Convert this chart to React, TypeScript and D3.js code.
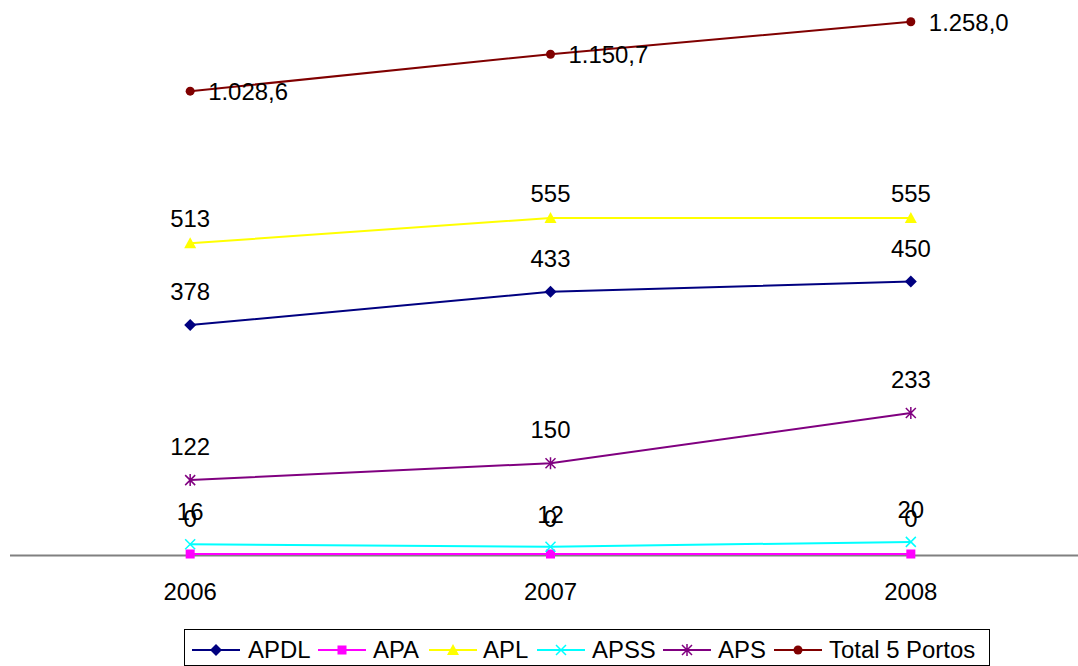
import React from "react";
import * as d3 from "d3";

const years = ["2006", "2007", "2008"];
const apdl = [378, 433, 450];
const apa = [0, 0, 0];
const apl = [513, 555, 555];
const apss = [16, 12, 20];
const aps = [122, 150, 233];
const total = [1028.6, 1150.7, 1258.0];

const seriesNames = ["APDL", "APA", "APL", "APSS", "APS", "Total 5 Portos"];
const seriesColors = ["#000080", "#FF00FF", "#FFFF00", "#00FFFF", "#800080", "#800000"];
const markerTypes = ["diamond", "square", "triangle", "x", "star", "circle"];

const W = 1078;
const H = 666;
const FONT = "'Liberation Sans', Arial, sans-serif";

function T({ x, y, anchor, children }: { x: number; y: number; anchor?: string; children: React.ReactNode }) {
  return (
    <text
      transform={`translate(${x},${y}) scale(1.04,1)`}
      textAnchor={anchor || "start"}
      fontSize={23}
      fill="#000"
    >
      {children}
    </text>
  );
}

function Marker({ type, x, y, color }: { type: string; x: number; y: number; color: string }) {
  if (type === "diamond") {
    const s = 6;
    return <path d={`M${x},${y - s}L${x + s},${y}L${x},${y + s}L${x - s},${y}Z`} fill={color} />;
  }
  if (type === "square") {
    return <rect x={x - 4.5} y={y - 4.5} width={9} height={9} fill={color} />;
  }
  if (type === "triangle") {
    return <path d={`M${x},${y - 6}L${x + 6},${y + 5}L${x - 6},${y + 5}Z`} fill={color} />;
  }
  if (type === "x") {
    const s = 5;
    return (
      <path d={`M${x - s},${y - s}L${x + s},${y + s}M${x - s},${y + s}L${x + s},${y - s}`} stroke={color} strokeWidth={1.5} />
    );
  }
  if (type === "star") {
    const s = 5;
    return (
      <path
        d={`M${x - s},${y - s}L${x + s},${y + s}M${x - s},${y + s}L${x + s},${y - s}M${x},${y - s - 1}L${x},${y + s + 1}`}
        stroke={color}
        strokeWidth={1.5}
      />
    );
  }
  return <circle cx={x} cy={y} r={4.5} fill={color} />;
}

export default function App() {
  const x = d3.scalePoint<string>().domain(years).range([10, 1091]).padding(0.5);
  const yL = d3.scaleLinear().domain([0, 900]).range([554, 9]);
  const yR = d3.scaleLinear().domain([-500, 1300]).range([554, 9]);

  const primary = [apdl, apa, apl, apss, aps];
  const labelOffsets = [-25, -27, -16, -24, -25];
  const fmtTotal = (v: number) => {
    const s = v.toFixed(1);
    const [int, dec] = s.split(".");
    return int.replace(/\B(?=(\d{3})+(?!\d))/g, ".") + "," + dec;
  };

  const lineL = d3
    .line<number>()
    .x((_, i) => x(years[i]) as number)
    .y((d) => yL(d));
  const lineR = d3
    .line<number>()
    .x((_, i) => x(years[i]) as number)
    .y((d) => yR(d));

  const legendItems = [
    { lx: 192, tx: 248 },
    { lx: 318, tx: 373 },
    { lx: 429, tx: 483 },
    { lx: 537, tx: 592 },
    { lx: 663, tx: 718 },
    { lx: 774, tx: 829 },
  ];

  return (
    <svg
      width={W}
      height={H}
      style={{ position: "absolute", left: 0, top: 0, display: "block", background: "#fff" }}
      fontFamily={FONT}
    >
      <rect x={0} y={0} width={W} height={H} fill="#fff" />
      <line x1={10} x2={W} y1={555.5} y2={555.5} stroke="#808080" strokeWidth={2} />
      {years.map((yr) => (
        <T key={yr} x={x(yr) as number} y={600} anchor="middle">
          {yr}
        </T>
      ))}

      {primary.map((vals, si) => (
        <g key={seriesNames[si]}>
          <path d={lineL(vals) || ""} fill="none" stroke={seriesColors[si]} strokeWidth={2} />
          {vals.map((v, i) => (
            <Marker key={i} type={markerTypes[si]} x={x(years[i]) as number} y={yL(v)} color={seriesColors[si]} />
          ))}
        </g>
      ))}
      <g>
        <path d={lineR(total) || ""} fill="none" stroke={seriesColors[5]} strokeWidth={2} />
        {total.map((v, i) => (
          <Marker key={i} type="circle" x={x(years[i]) as number} y={yR(v)} color={seriesColors[5]} />
        ))}
      </g>

      {primary.map((vals, si) =>
        vals.map((v, i) => (
          <T key={`${si}-${i}`} x={x(years[i]) as number} y={yL(v) + labelOffsets[si]} anchor="middle">
            {String(v)}
          </T>
        ))
      )}
      {total.map((v, i) => (
        <T key={`t${i}`} x={(x(years[i]) as number) + 18} y={yR(v) + 9}>
          {fmtTotal(v)}
        </T>
      ))}

      <rect x={184.5} y={629.5} width={805} height={36} fill="#fff" stroke="#000" strokeWidth={1} />
      {seriesNames.map((name, i) => (
        <g key={name}>
          <line x1={legendItems[i].lx} x2={legendItems[i].lx + 48} y1={650} y2={650} stroke={seriesColors[i]} strokeWidth={2} />
          <Marker type={markerTypes[i]} x={legendItems[i].lx + 24} y={650} color={seriesColors[i]} />
          <T x={legendItems[i].tx} y={658}>
            {name}
          </T>
        </g>
      ))}
    </svg>
  );
}
